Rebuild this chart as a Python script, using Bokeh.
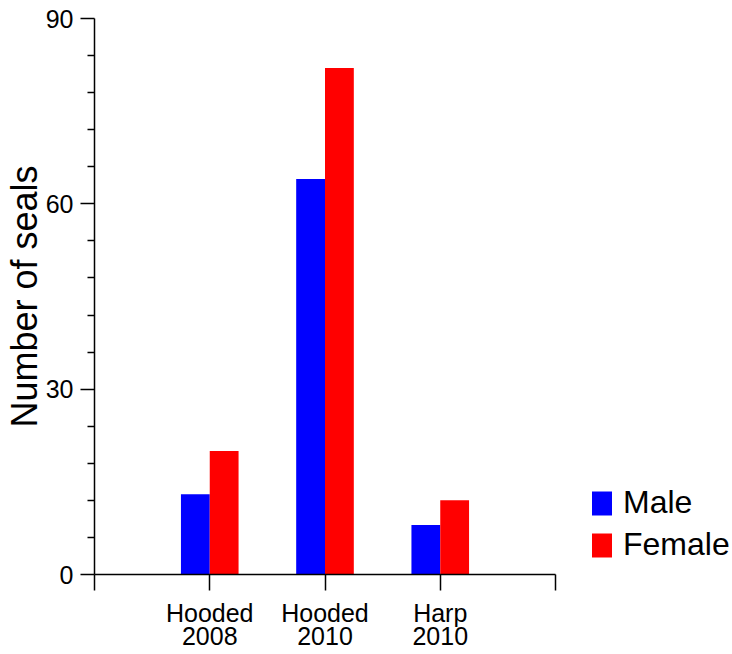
import math
from bokeh.plotting import figure
from bokeh.models import FixedTicker, Legend, LegendItem
from bokeh.embed import file_html
from bokeh.resources import INLINE

# ---- data ----
categories = ["Hooded\n2008", "Hooded\n2010", "Harp\n2010"]
male = [13, 64, 8]
female = [20, 82, 12]
y_major_ticks = [0, 30, 60, 90]
y_minor_step = 6

FONT = "Liberation Sans"

positions = [i + 1 for i in range(len(categories))]
bar_w = 0.25

p = figure(frame_width=461, frame_height=556, x_range=(0, len(categories) + 1), y_range=(0, 90),
           output_backend="svg", toolbar_location=None,
           min_border_left=93, min_border_right=170, min_border_top=18, min_border_bottom=76)
p.xgrid.visible = False
p.ygrid.visible = False
p.outline_line_color = None
p.background_fill_color = "white"

rm = p.vbar(x=[x - bar_w / 2 for x in positions], top=male, bottom=0, width=bar_w,
            fill_color="#0000FF", line_color=None)
rf = p.vbar(x=[x + bar_w / 2 for x in positions], top=female, bottom=0, width=bar_w,
            fill_color="#FF0000", line_color=None)

# x axis
xa = p.xaxis[0]
xa.ticker = FixedTicker(ticks=list(range(0, len(categories) + 2)))
overrides = {0: "", len(categories) + 1: ""}
for pos, c in zip(positions, categories):
    overrides[pos] = c
xa.major_label_overrides = overrides
xa.major_tick_in = 0
xa.major_tick_out = 16
xa.minor_tick_out = 0
xa.minor_tick_in = 0
xa.axis_line_width = 1.5
xa.major_tick_line_width = 1.5
xa.major_label_text_font = FONT
xa.major_label_text_font_size = "25px"
xa.major_label_text_color = "black"
xa.major_label_text_line_height = 0.85
xa.major_label_standoff = 8

# y axis
ya = p.yaxis[0]
minor = [v for v in range(0, 91, y_minor_step) if v not in y_major_ticks]
ya.ticker = FixedTicker(ticks=y_major_ticks, minor_ticks=minor)
ya.major_tick_in = 0
ya.major_tick_out = 14
ya.minor_tick_in = 0
ya.minor_tick_out = 7
ya.axis_line_width = 1.5
ya.major_tick_line_width = 1.5
ya.minor_tick_line_width = 1.5
ya.major_label_text_font = FONT
ya.major_label_text_font_size = "25px"
ya.major_label_text_color = "black"
ya.major_label_standoff = 7
ya.axis_label = "Number of seals"
ya.axis_label_text_font = FONT
ya.axis_label_text_font_size = "36px"
ya.axis_label_text_font_style = "normal"
ya.axis_label_text_color = "black"
ya.axis_label_standoff = -2

legend = Legend(items=[LegendItem(label="Male", renderers=[rm]),
                       LegendItem(label="Female", renderers=[rf])],
                location=(34, 11), padding=0, spacing=5, margin=0,
                glyph_width=25, glyph_height=30, label_standoff=9,
                label_text_font=FONT, label_text_font_size="32px",
                label_text_color="black",
                border_line_color=None, background_fill_alpha=0)
p.add_layout(legend, "right")

open("out.html", "w").write(file_html(p, INLINE))
